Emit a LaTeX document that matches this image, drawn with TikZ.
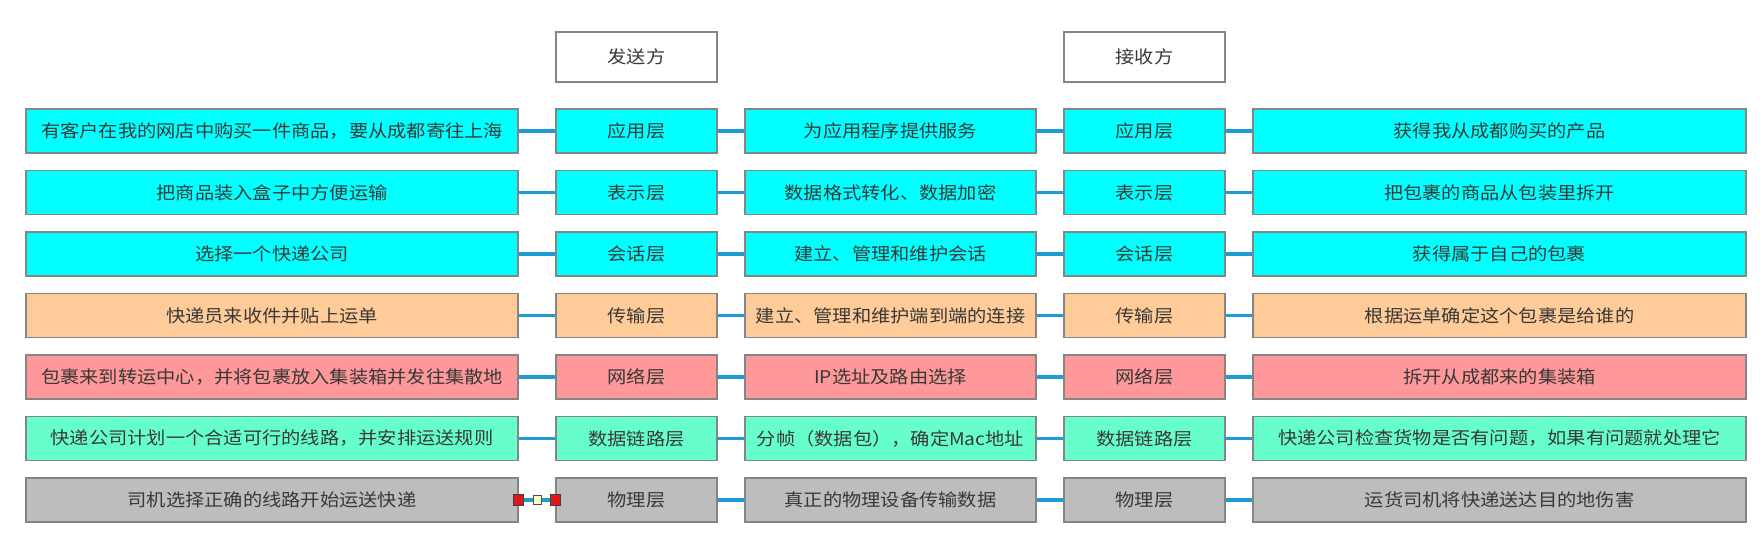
\documentclass[tikz,border=0pt]{standalone}
\usepackage{fontspec}
\newfontfamily\cjk[FakeStretch=1.1]{Noto Sans CJK SC}
\usetikzlibrary{calc}
\definecolor{cApp}{HTML}{00FFFF}
\definecolor{cTra}{HTML}{FFCC99}
\definecolor{cNet}{HTML}{FF9999}
\definecolor{cDL}{HTML}{66FFCC}
\definecolor{cPh}{HTML}{BDBDBD}
\definecolor{cBorder}{HTML}{858585}
\definecolor{cConn}{HTML}{1E9BD7}
\definecolor{cTxt}{HTML}{383838}
\definecolor{cHandle}{HTML}{E01818}
\definecolor{cHandleMid}{HTML}{FFFFC8}
\newcommand\osirow[7]{%
  \node[box,fill=#3,minimum width=492pt] (a#1) at (272,#2) {#4};
  \node[box,fill=#3,minimum width=161pt] (b#1) at (636.5,#2) {#5};
  \node[box,fill=#3,minimum width=291pt] (c#1) at (890.5,#2) {#6};
  \node[box,fill=#3,minimum width=161pt] (d#1) at (1144.5,#2) {#5};
  \node[box,fill=#3,minimum width=493pt] (e#1) at (1499.5,#2) {#7};
  \draw[conn] (a#1) -- (b#1);
  \draw[conn] (b#1) -- (c#1);
  \draw[conn] (c#1) -- (d#1);
  \draw[conn] (d#1) -- (e#1);
}
\begin{document}
\begin{tikzpicture}[x=1pt,y=-1pt,
  box/.style={draw=cBorder, line width=1.2pt, inner sep=0pt, minimum height=44pt,
    font=\cjk\fontsize{17.5}{20}\selectfont, text=cTxt},
  header/.style={box, fill=white, minimum width=161pt, minimum height=50pt},
  conn/.style={draw=cConn, line width=3.2pt},
  handle/.style={draw=black!75, fill=cHandle, line width=0.9pt, inner sep=0pt, minimum width=10pt, minimum height=11pt},
  midhandle/.style={draw=black!70, fill=cHandleMid, line width=0.9pt, inner sep=0pt, minimum width=8pt, minimum height=9pt}]
\useasboundingbox (0,0) rectangle (1764,538);
\fill[white] (0,0) rectangle (1764,538);
\node[header] (send) at (636.5,57) {发送方};
\node[header] (recv) at (1144.5,57) {接收方};
\osirow{1}{131}{cApp}{有客户在我的网店中购买一件商品，要从成都寄往上海}{应用层}{为应用程序提供服务}{获得我从成都购买的产品}
\osirow{2}{192.5}{cApp}{把商品装入盒子中方便运输}{表示层}{数据格式转化、数据加密}{把包裹的商品从包装里拆开}
\osirow{3}{254}{cApp}{选择一个快递公司}{会话层}{建立、管理和维护会话}{获得属于自己的包裹}
\osirow{4}{315.5}{cTra}{快递员来收件并贴上运单}{传输层}{建立、管理和维护端到端的连接}{根据运单确定这个包裹是给谁的}
\osirow{5}{377}{cNet}{包裹来到转运中心，并将包裹放入集装箱并发往集散地}{网络层}{IP选址及路由选择}{拆开从成都来的集装箱}
\osirow{6}{438.5}{cDL}{快递公司计划一个合适可行的线路，并安排运送规则}{数据链路层}{分帧（数据包），确定Mac地址}{快递公司检查货物是否有问题，如果有问题就处理它}
\osirow{7}{500}{cPh}{司机选择正确的线路开始运送快递}{物理层}{真正的物理设备传输数据}{运货司机将快递送达目的地伤害}
\node[handle] (h1) at (a7.east) {};
\node[handle] (h2) at (b7.west) {};
\node[midhandle] (h3) at ($(a7.east)!0.5!(b7.west)$) {};
\end{tikzpicture}
\end{document}
